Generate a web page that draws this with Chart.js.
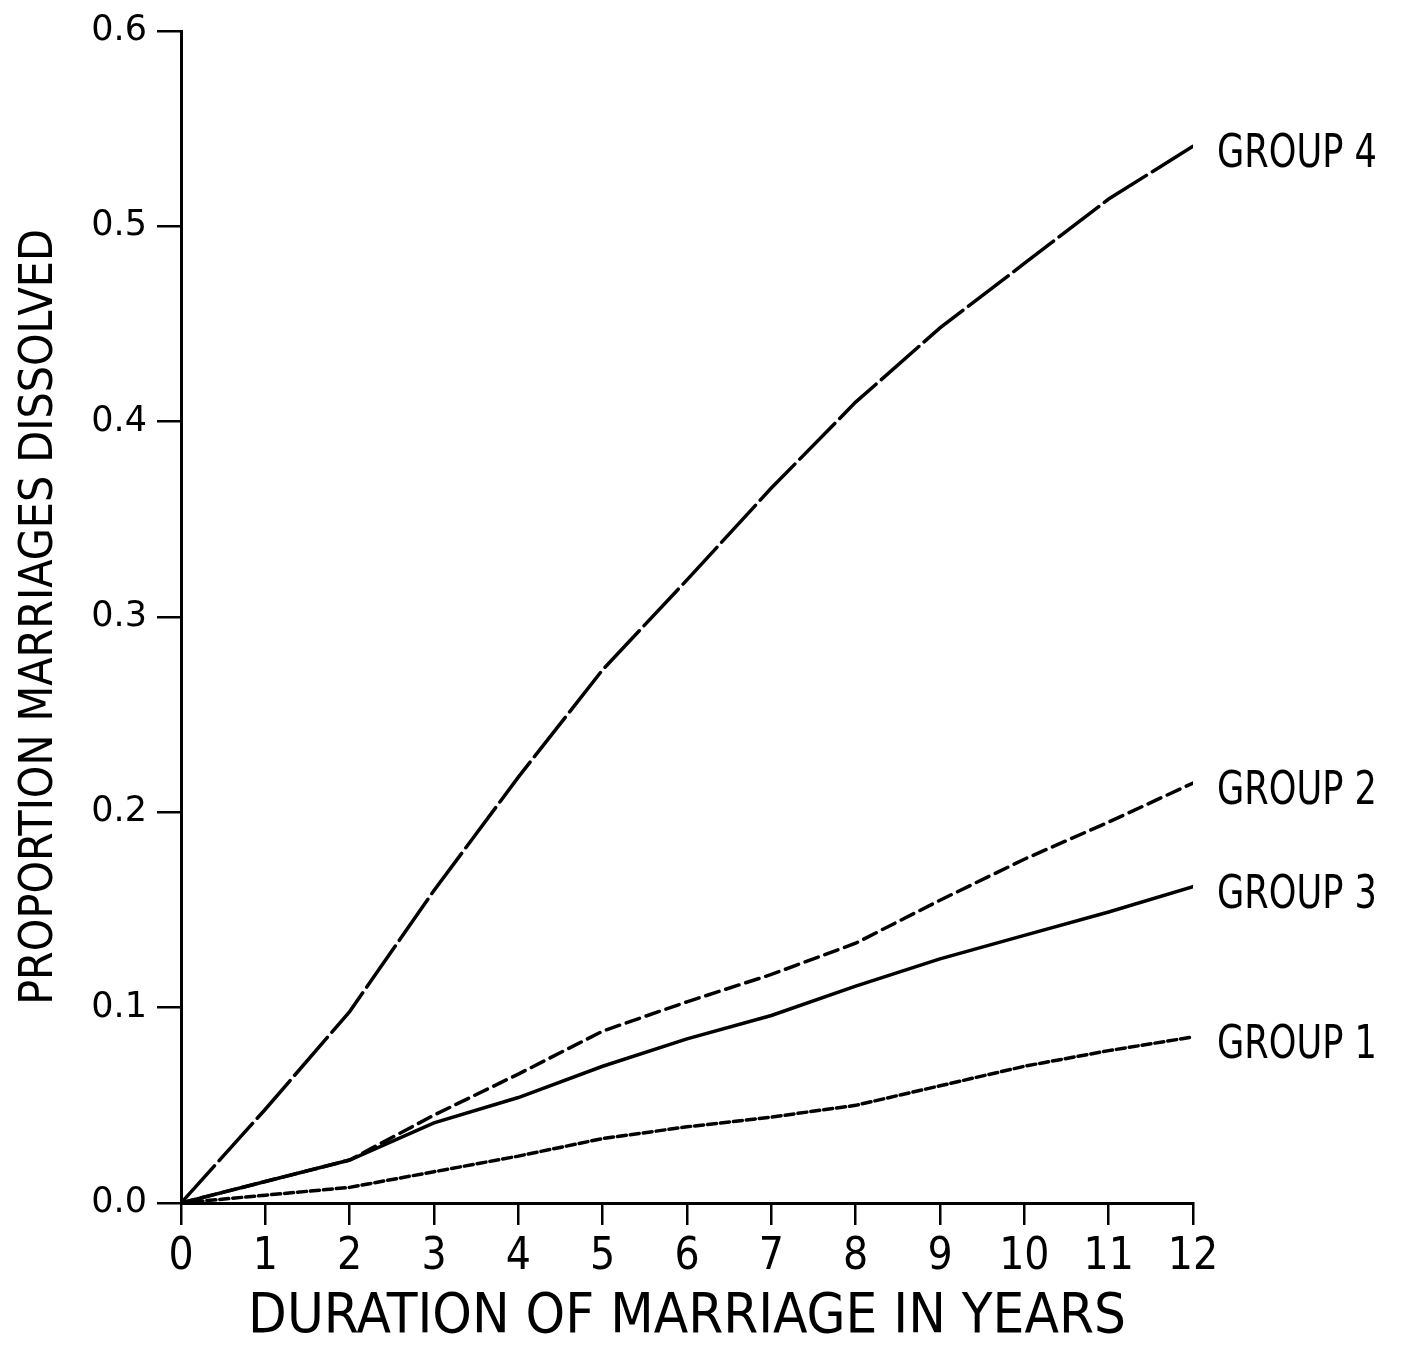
<!DOCTYPE html>
<html>
<head>
<meta charset="utf-8">
<script src="https://cdn.jsdelivr.net/npm/chart.js@4/dist/chart.umd.min.js"></script>
<style>
  html, body { margin: 0; padding: 0; background: #ffffff; }
  #wrap { width: 1404px; height: 1349px; position: relative; }
  canvas { display: block; }
</style>
</head>
<body>
<div id="wrap"><canvas id="c" width="1404" height="1349"></canvas></div>
<script>
// ---- data ----
const years = [0, 1, 2, 3, 4, 5, 6, 7, 8, 9, 10, 11, 12];
const group1 = [0, 0.004, 0.008, 0.016, 0.024, 0.033, 0.039, 0.044, 0.050, 0.060, 0.070, 0.078, 0.085];
const group2 = [0, 0.011, 0.022, 0.045, 0.066, 0.088, 0.103, 0.117, 0.133, 0.155, 0.176, 0.195, 0.215];
const group3 = [0, 0.011, 0.022, 0.041, 0.054, 0.070, 0.084, 0.096, 0.111, 0.125, 0.137, 0.149, 0.162];
const group4 = [0, 0.048, 0.098, 0.160, 0.218, 0.273, 0.319, 0.366, 0.410, 0.448, 0.481, 0.514, 0.541];
const seriesNames = ['GROUP 1', 'GROUP 2', 'GROUP 3', 'GROUP 4'];
const xTitle = 'DURATION OF MARRIAGE IN YEARS';
const yTitle = 'PROPORTION MARRIAGES DISSOLVED';

const NARROW = "'Liberation Sans Narrow', 'DejaVu Sans Condensed', 'Roboto Condensed', sans-serif";
const ROUND = "'DejaVu Sans', 'Verdana', sans-serif";

function pts(arr) { return years.map((x, i) => ({ x: x, y: arr[i] })); }

const dashes = [[9, 4], [14, 7], [], [50, 7]];
const seriesData = [group1, group2, group3, group4];

const endLabels = {
  id: 'endLabels',
  afterDatasetsDraw(chart) {
    const ctx = chart.ctx;
    const xs = chart.scales.x, ys = chart.scales.y;
    const sx = 0.85;
    ctx.save();
    ctx.fillStyle = '#000';
    ctx.font = "46px " + NARROW;
    ctx.textAlign = 'left';
    ctx.textBaseline = 'middle';
    chart.data.datasets.forEach(ds => {
      const last = ds.data[ds.data.length - 1];
      const px = xs.getPixelForValue(last.x) + 24;
      const py = ys.getPixelForValue(last.y) + 9;
      ctx.save();
      ctx.translate(px, py);
      ctx.scale(sx, 1);
      ctx.fillText(ds.label, 0, 0);
      ctx.restore();
    });
    ctx.restore();
  }
};

new Chart(document.getElementById('c'), {
  type: 'line',
  data: {
    datasets: seriesData.map((arr, i) => ({
      label: seriesNames[i],
      data: pts(arr),
      borderColor: '#000',
      borderWidth: 3.5,
      borderDash: dashes[i],
      pointRadius: 0,
      tension: 0,
      fill: false,
      borderCapStyle: 'round'
    }))
  },
  options: {
    responsive: false,
    devicePixelRatio: 1,
    animation: false,
    layout: { padding: { left: 0, right: 211, top: 30, bottom: 0 } },
    plugins: { legend: { display: false }, tooltip: { enabled: false }, title: { display: false } },
    scales: {
      x: {
        type: 'linear',
        min: 0, max: 12,
        afterFit(scale) { scale.height = 146; },
        border: { display: true, color: '#000', width: 3 },
        grid: { display: true, drawOnChartArea: false, drawTicks: true, tickLength: 22, color: '#000', lineWidth: 2.5 },
        ticks: {
          stepSize: 1,
          color: '#000',
          padding: 6,
          maxRotation: 0,
          font: { family: NARROW, size: 44 },
          callback: v => String(v)
        },
        title: {
          display: true,
          text: xTitle,
          color: '#000',
          font: { family: NARROW, size: 56, lineHeight: 1 },
          padding: { top: 0, bottom: 4 }
        }
      },
      y: {
        type: 'linear',
        min: 0, max: 0.6,
        afterFit(scale) { scale.width = 181; },
        border: { display: true, color: '#000', width: 3 },
        grid: { display: true, drawOnChartArea: false, drawTicks: true, tickLength: 24, color: '#000', lineWidth: 2.5 },
        ticks: {
          stepSize: 0.1,
          color: '#000',
          padding: 10,
          font: { family: ROUND, size: 35 },
          callback: v => Number(v).toFixed(1)
        },
        title: {
          display: true,
          text: yTitle,
          color: '#000',
          font: { family: NARROW, size: 46, lineHeight: 1 },
          padding: { top: 17, bottom: 0 }
        }
      }
    }
  },
  plugins: [endLabels]
});
</script>
</body>
</html>
